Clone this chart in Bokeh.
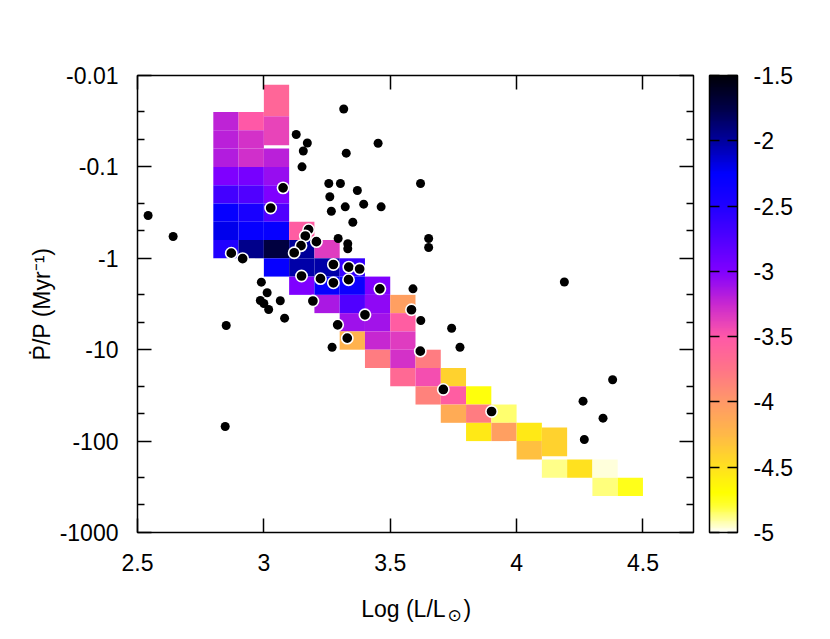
import numpy as np
from bokeh.plotting import figure
from bokeh.layouts import column
from bokeh.core.properties import value
from bokeh.models import (Range1d, FixedTicker, CustomJSTickFormatter, LinearAxis, LogAxis,
                          ColorBar, LinearColorMapper, ColumnDataSource)
from bokeh.embed import file_html
from bokeh.resources import INLINE

# ---------------- data ----------------
# model grid cells: left edge in log(L/Lsun), edges in log10|Pdot/P|, colour value
cell_x = [2.8]*8 + [2.9]*8 + [3.0]*9 + [3.1]*4 + [3.2]*4 + [3.3]*5 + [3.4]*5 + [3.5]*5 \
         + [3.6]*3 + [3.7]*3 + [3.8]*3 + [3.9]*2 + [4.0]*2 + [4.1]*2 + [4.2] + [4.3]*2 + [4.4]
cell_lo = [-1.6, -1.4, -1.2, -1.0, -0.8, -0.6, -0.4, -0.2,
           -1.6, -1.4, -1.2, -1.0, -0.8, -0.6, -0.4, -0.2,
           -1.9, -1.555, -1.2, -1.0, -0.8, -0.6, -0.4, -0.2, 0.0,
           -0.4, -0.2, 0.0, 0.2,
           -0.2, 0.0, 0.2, 0.4,
           0.0, 0.2, 0.4, 0.6, 0.8,
           0.2, 0.4, 0.6, 0.8, 1.0,
           0.4, 0.6, 0.8, 1.0, 1.2,
           1.0, 1.2, 1.4,
           1.2, 1.4, 1.6,
           1.4, 1.6, 1.8,
           1.6, 1.8,
           1.8, 2.0,
           1.85, 2.2,
           2.2,
           2.2, 2.4,
           2.4]
cell_hi = [-1.4, -1.2, -1.0, -0.8, -0.6, -0.4, -0.2, 0.0,
           -1.4, -1.2, -1.0, -0.8, -0.6, -0.4, -0.2, 0.0,
           -1.555, -1.238, -1.0, -0.8, -0.6, -0.4, -0.2, 0.0, 0.2,
           -0.2, 0.0, 0.2, 0.4,
           0.0, 0.2, 0.4, 0.6,
           0.2, 0.4, 0.6, 0.8, 1.0,
           0.4, 0.6, 0.8, 1.0, 1.2,
           0.6, 0.8, 1.0, 1.2, 1.4,
           1.2, 1.4, 1.6,
           1.4, 1.6, 1.8,
           1.6, 1.8, 2.0,
           1.8, 2.0,
           2.0, 2.2,
           2.165, 2.4,
           2.4,
           2.4, 2.6,
           2.6]
cell_val = [-3.22, -3.2, -3.18, -3.0, -2.68, -2.3, -2.2, -2.5,
            -3.5, -3.3, -3.28, -2.95, -2.75, -2.45, -2.3, -1.95,
            -3.62, -3.4, -3.2, -3.08, -3.0, -2.75, -2.3, -1.72, -2.3,
            -3.55, -1.98, -2.02, -3.0,
            -3.35, -2.02, -2.3, -3.15,
            -2.62, -2.35, -2.75, -3.1, -4.2,
            -3.0, -3.05, -3.12, -3.25, -3.8,
            -4.05, -3.55, -3.35, -3.3, -3.65,
            -3.8, -3.45, -3.85,
            -4.4, -3.55, -4.15,
            -4.72, -3.8, -4.55,
            -4.85, -4.05,
            -4.55, -4.3,
            -4.4, -4.88,
            -4.5,
            -4.97, -4.87,
            -4.75]
cell_width = 0.1

# observed stars (white-ringed and plain)
ring_x = [3.076, 3.027, 2.871, 2.916, 3.177, 3.164, 3.147, 3.120, 3.208, 3.275, 3.336, 3.379,
          3.149, 3.224, 3.275, 3.335, 3.459, 3.194, 3.400, 3.584, 3.292, 3.330, 3.619, 3.710, 3.901]
ring_logy = [-0.771, -0.550, -0.056, 0.004, -0.313, -0.244, -0.138, -0.061, -0.182, 0.068, 0.097, 0.117,
             0.194, 0.223, 0.268, 0.234, 0.334, 0.467, 0.618, 0.563, 0.728, 0.874, 1.016, 1.435, 1.676]

plain_x = [2.542, 2.641, 3.316, 3.128, 3.172, 3.156, 3.151, 3.452, 3.326, 3.257, 3.303, 3.370,
           3.261, 3.395, 3.464, 3.322, 3.267, 3.352, 3.294, 3.332, 3.332, 3.620, 3.652, 3.652,
           2.990, 3.013, 2.986, 3.000, 3.019, 3.065, 3.082, 2.851, 3.590, 3.621, 3.743, 3.776,
           3.270, 2.847, 4.189, 4.380, 4.263, 4.342, 4.268]
plain_logy = [-0.468, -0.238, -1.633, -1.354, -1.261, -1.174, -1.001, -1.259, -1.150, -0.818, -0.818, -0.742,
              -0.673, -0.592, -0.563, -0.563, -0.515, -0.395, -0.217, -0.159, -0.104, -0.818, -0.217, -0.118,
              0.261, 0.377, 0.462, 0.494, 0.560, 0.465, 0.655, 0.735, 0.334, 0.681, 0.765, 0.973,
              0.973, 1.840, 0.259, 1.329, 1.563, 1.749, 1.982]

x_ticks = [2.5, 3.0, 3.5, 4.0, 4.5]
y_ticks = [0.01, 0.1, 1, 10, 100, 1000]
y_minor = [m * d for d in [0.01, 0.1, 1, 10, 100] for m in (2.5, 5.0)]
cb_ticks = [-5, -4.5, -4, -3.5, -3, -2.5, -2, -1.5]

# ---------------- palette ----------------
anchors = [(-5.0, "#fffff6"), (-4.8, "#ffff30"), (-4.7, "#ffff00"), (-4.5, "#ffe020"),
           (-4.25, "#ffb848"), (-4.0, "#ff9868"), (-3.75, "#ff7488"), (-3.5, "#ff58a8"),
           (-3.25, "#c828d0"), (-3.0, "#8000ff"), (-2.75, "#5000ff"), (-2.5, "#2000ff"),
           (-2.25, "#0000ff"), (-2.0, "#0000a0"), (-1.75, "#000048"), (-1.5, "#000008")]
av = np.array([a[0] for a in anchors])
ac = np.array([[int(a[1][i:i + 2], 16) for i in (1, 3, 5)] for a in anchors], dtype=float)
palette = []
for v in np.linspace(-5, -1.5, 256):
    rgb = [int(round(np.interp(v, av, ac[:, k]))) for k in range(3)]
    palette.append("#%02x%02x%02x" % tuple(rgb))
mapper = LinearColorMapper(palette=palette, low=-5, high=-1.5)

FONT = "Liberation Sans"
FS = "23px"

p = figure(width=830, height=587, x_range=Range1d(2.5, 4.7), y_range=Range1d(1000, 0.01),
           y_axis_type="log", output_backend="svg", toolbar_location=None,
           min_border_left=137, min_border_right=137, min_border_top=75, min_border_bottom=55)
p.xgrid.visible = False
p.ygrid.visible = False
p.outline_line_color = "black"
p.outline_line_width = 1.5
p.background_fill_color = "white"
p.border_fill_color = "white"

cells = ColumnDataSource(dict(
    left=cell_x,
    right=[c + cell_width for c in cell_x],
    top=[10 ** v for v in cell_lo],
    bottom=[10 ** v for v in cell_hi],
    val=cell_val))
p.quad(left="left", right="right", top="top", bottom="bottom", source=cells,
       fill_color={"field": "val", "transform": mapper}, line_color=None)

p.scatter(plain_x, [10 ** v for v in plain_logy], size=9, fill_color="black", line_color=None)
p.scatter(ring_x, [10 ** v for v in ring_logy], size=11.3, fill_color="black",
          line_color="white", line_width=1.6)

xfmt = CustomJSTickFormatter(code="return tick.toString();")
yfmt = CustomJSTickFormatter(code="return '-' + tick.toString();")
blank = CustomJSTickFormatter(code="return ' ';")


def style_axis(ax, labels=True):
    ax.axis_line_color = None
    ax.major_tick_in = 14
    ax.major_tick_out = 0
    ax.minor_tick_in = 7
    ax.minor_tick_out = 0
    ax.major_tick_line_color = "black"
    ax.minor_tick_line_color = "black"
    ax.major_tick_line_width = 1.5
    ax.minor_tick_line_width = 1.5
    ax.major_label_text_font = FONT
    ax.major_label_text_font_size = FS if labels else "1px"
    ax.major_label_text_color = "black"


xax = p.xaxis[0]
xax.ticker = FixedTicker(ticks=x_ticks, minor_ticks=[])
xax.formatter = xfmt
style_axis(xax)
xax.major_label_standoff = 21

yax = p.yaxis[0]
yax.ticker = FixedTicker(ticks=y_ticks, minor_ticks=y_minor)
yax.formatter = yfmt
style_axis(yax)
yax.major_label_standoff = 19
yax.axis_label = "Ṗ/P (Myr⁻¹)"
yax.axis_label_text_font = FONT
yax.axis_label_text_font_size = FS
yax.axis_label_text_font_style = "normal"
yax.axis_label_text_color = "black"
yax.axis_label_standoff = 2

top = LinearAxis(ticker=FixedTicker(ticks=x_ticks, minor_ticks=[]), formatter=blank)
style_axis(top, labels=False)
top.major_label_standoff = 0
p.add_layout(top, "above")

right = LogAxis(ticker=FixedTicker(ticks=y_ticks, minor_ticks=y_minor), formatter=blank)
style_axis(right, labels=False)
right.major_label_standoff = 13
p.add_layout(right, "right")

cb = ColorBar(color_mapper=mapper, ticker=FixedTicker(ticks=cb_ticks), formatter=xfmt,
              width=28, height=457, padding=0, margin=0, location="top_left",
              label_standoff=16, major_tick_in=28, major_tick_out=0,
              major_tick_line_color="black", major_tick_line_width=1.5,
              major_tick_line_dash="10 8",
              minor_tick_line_color=None,
              bar_line_color="black", bar_line_width=1.5, border_line_color=None,
              background_fill_color=None,
              major_label_text_font=FONT, major_label_text_font_size=FS,
              major_label_text_color="black")
p.add_layout(cb, "right")

# x-axis title (with subscript sun symbol) drawn as text in a strip below the plot,
# sharing the plot's x range and borders so it lines up with the frame
p2 = figure(width=830, height=52, x_range=p.x_range, y_range=Range1d(52, 0),
            output_backend="svg", toolbar_location=None, x_axis_location=None,
            y_axis_location=None, min_border_left=137, min_border_right=137,
            min_border_top=0, min_border_bottom=0)
p2.xgrid.visible = False
p2.ygrid.visible = False
p2.outline_line_color = None
p2.background_fill_color = "white"
p2.border_fill_color = "white"
p2.text(x=[3.719], y=[21.8], text=["Log (L/L"], text_align="right", text_baseline="alphabetic",
        text_font=value(FONT), text_font_size="23px", text_color="black")
p2.text(x=[3.755], y=[27.5], text=["⊙"], text_align="center", text_baseline="middle",
        text_font=value("DejaVu Sans"), text_font_size="17px", text_color="black")
p2.text(x=[3.790], y=[21.8], text=[")"], text_align="left", text_baseline="alphabetic",
        text_font=value(FONT), text_font_size="23px", text_color="black")

layout = column(p, p2, spacing=0)
open("out.html", "w").write(file_html(layout, INLINE))
